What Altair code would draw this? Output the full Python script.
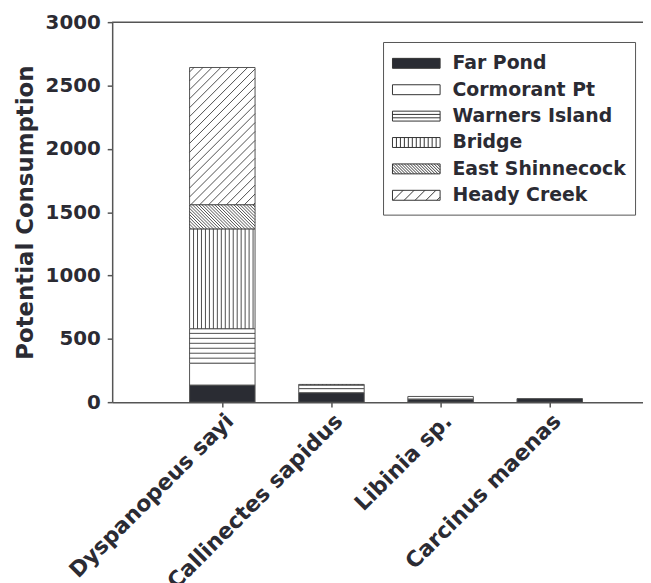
import json
import altair as alt
import pandas as pd

# ---------------- data ----------------
species = ["Dyspanopeus sayi", "Callinectes sapidus", "Libinia sp.", "Carcinus maenas"]
sites = ["Far Pond", "Cormorant Pt", "Warners Island", "Bridge", "East Shinnecock", "Heady Creek"]
far_pond = [135, 75, 22, 28]
cormorant_pt = [173, 32, 3, 0]
warners_island = [272, 28, 20, 0]
bridge = [788, 5, 0, 0]
east_shinnecock = [191, 0, 0, 0]
heady_creek = [1083, 0, 0, 0]
y_ticks = [0, 500, 1000, 1500, 2000, 2500, 3000]

series = [far_pond, cormorant_pt, warners_island, bridge, east_shinnecock, heady_creek]
fills = ["#2a2c33", "white", "white", "white", "white", "white"]
patterns = ["", "", "h", "v", "\\", "/"]
spacing = {"h": 5.0, "v": 4.0, "\\": 3.2, "/": 9.0}

# ---------------- layout ----------------
W, H = 535, 383
YMAX = 3000
STEP = 110.0            # px per category
FIRST = 111.0           # px from axis to first bar centre
XMIN = -FIRST / STEP
XMAX = XMIN + W / STEP
HALF = 0.3              # half bar width in category units
KX = STEP
KY = H / YMAX

TXT = "#2b2b33"
LINE = "#555555"
FONT = "DejaVu Sans"

# ---------------- stacked segments ----------------
rects = []
hatch = []


def add_hatch(kind, x0, x1, y0, y1):
    X0, X1, Y0, Y1 = x0 * KX, x1 * KX, y0 * KY, y1 * KY
    s = spacing[kind]
    segs = []
    if kind == "h":
        yy = Y0 + s
        while yy < Y1 - 0.8:
            segs.append((X0, yy, X1, yy))
            yy += s
    elif kind == "v":
        xx = X0 + s
        while xx < X1 - 0.8:
            segs.append((xx, Y0, xx, Y1))
            xx += s
    elif kind == "/":
        c = X0 - Y1 + s / 2
        while c < X1 - Y0:
            lo, hi = max(X0, Y0 + c), min(X1, Y1 + c)
            if hi - lo > 0.3:
                segs.append((lo, lo - c, hi, hi - c))
            c += s
    elif kind == "\\":
        c = X0 + Y0 + s / 2
        while c < X1 + Y1:
            lo, hi = max(X0, c - Y1), min(X1, c - Y0)
            if hi - lo > 0.3:
                segs.append((lo, c - lo, hi, c - hi))
            c += s
    for a, b, cc, d in segs:
        hatch.append({"hx": a / KX, "hy": b / KY, "hx2": cc / KX, "hy2": d / KY})


for i, sp in enumerate(species):
    base = 0.0
    for site, vals, pat in zip(sites, series, patterns):
        v = vals[i]
        if v <= 0:
            continue
        x0, x1 = i - HALF, i + HALF
        rects.append({"species": sp, "site": site, "x0": x0, "x1": x1,
                      "y0": base, "y1": base + v})
        if pat:
            add_hatch(pat, x0, x1, base, base + v)
        base += v

rect_df = pd.DataFrame(rects)
hatch_df = pd.DataFrame(hatch)

# ---------------- legend symbol paths ----------------
# symbol size 576 -> 1 path unit = 12 px; symbol is 48 x 10 px (x in [-2, 2])
U = 12.0
SX = 2.0
h = 5.0 / U
box = f"M{-SX},{-h:.3f}H{SX}V{h:.3f}H{-SX}Z"


def clip_line(xa, ya, xb, yb):
    if xa > xb:
        xa, ya, xb, yb = xb, yb, xa, ya
    if xb < -SX or xa > SX:
        return ""
    def at(x):
        return ya + (yb - ya) * (x - xa) / (xb - xa)
    nxa, nya = (xa, ya) if xa >= -SX else (-SX, at(-SX))
    nxb, nyb = (xb, yb) if xb <= SX else (SX, at(SX))
    return f" M{nxa:.3f},{nya:.3f}L{nxb:.3f},{nyb:.3f}"


p_h = box + f" M{-SX},{-1.7 / U:.3f}H{SX} M{-SX},{1.7 / U:.3f}H{SX}"
p_v = box + "".join(f" M{-SX + k * 4 / U:.3f},{-h:.3f}V{h:.3f}" for k in range(1, 12))
p_bs = box
a = -SX - 2 * h
while a < SX + 2 * h:
    p_bs += clip_line(a - h, -h, a + h, h)
    a += 3.0 / U
p_fs = box
a = -SX - 2 * h + 0.4
while a < SX + 2 * h:
    p_fs += clip_line(a - h, h, a + h, -h)
    a += 11.0 / U
shape_paths = [box, box, p_h, p_v, p_bs, p_fs]

# ---------------- chart ----------------
xscale = alt.Scale(domain=[XMIN, XMAX], nice=False, zero=False)
yscale = alt.Scale(domain=[0, YMAX], nice=False, zero=True)

legend = alt.Legend(
    title=None, orient="none", legendX=273, legendY=20,
    strokeColor=LINE, fillColor="white", padding=9,
    labelFont=FONT, labelFontWeight="bold", labelFontSize=19, labelColor=TXT,
    labelLimit=0,
    symbolSize=576, symbolStrokeColor="#333333", symbolStrokeWidth=1,
    symbolOffset=12, labelOffset=24, rowPadding=3.6,
)
color = alt.Color("site:N", scale=alt.Scale(domain=sites, range=fills), legend=legend)

labels_expr = json.dumps(species) + "[datum.value]"
x_axis = alt.Axis(values=[0, 1, 2, 3], labelExpr=labels_expr, labelAngle=-45, title=None,
                  tickSize=5, tickWidth=1.5, domainWidth=1.5, labelFontSize=22,
                  labelPadding=3, labelLimit=0, labelOverlap=False, grid=False)
y_axis = alt.Axis(values=y_ticks, format="d", title="Potential Consumption",
                  titleFontSize=23, titlePadding=8, labelFontSize=20, labelPadding=7,
                  tickSize=5, tickWidth=1.5, domainWidth=1.5, grid=False)

bars = alt.Chart(rect_df).mark_rect(stroke=LINE, strokeWidth=1).encode(
    x=alt.X("x0:Q", scale=xscale, axis=x_axis),
    x2="x1:Q",
    y=alt.Y("y0:Q", scale=yscale, axis=y_axis),
    y2="y1:Q",
    color=color,
)

lines = alt.Chart(hatch_df).mark_rule(color="#3a3a3a", strokeWidth=0.9).encode(
    x=alt.X("hx:Q", scale=xscale),
    x2="hx2:Q",
    y=alt.Y("hy:Q", scale=yscale),
    y2="hy2:Q",
)

top = alt.Chart(pd.DataFrame({"t": [YMAX]})).mark_rule(color=LINE, strokeWidth=1.5).encode(
    y=alt.Y("t:Q", scale=yscale),
    x=alt.value(0),
    x2=alt.value(W),
)

legend_pts = alt.Chart(pd.DataFrame({"site": sites})).transform_filter("false").mark_point(
    filled=True, opacity=1, stroke="#333333", strokeWidth=1, size=576
).encode(
    x=alt.value(0),
    y=alt.value(0),
    color=color,
    shape=alt.Shape("site:N", scale=alt.Scale(domain=sites, range=shape_paths), legend=legend),
)

chart = alt.layer(bars, lines, top, legend_pts).properties(
    width=W, height=H,
    autosize=alt.AutoSizeParams(type="none"),
    padding={"left": 105, "top": 12, "right": 0, "bottom": 180},
).configure_view(stroke=None).configure_axis(
    domainColor=LINE, tickColor=LINE, labelColor=TXT, titleColor=TXT,
    labelFont=FONT, titleFont=FONT, labelFontWeight="bold", titleFontWeight="bold",
)

chart.save("out.html", embed_options={"renderer": "svg", "actions": False})
